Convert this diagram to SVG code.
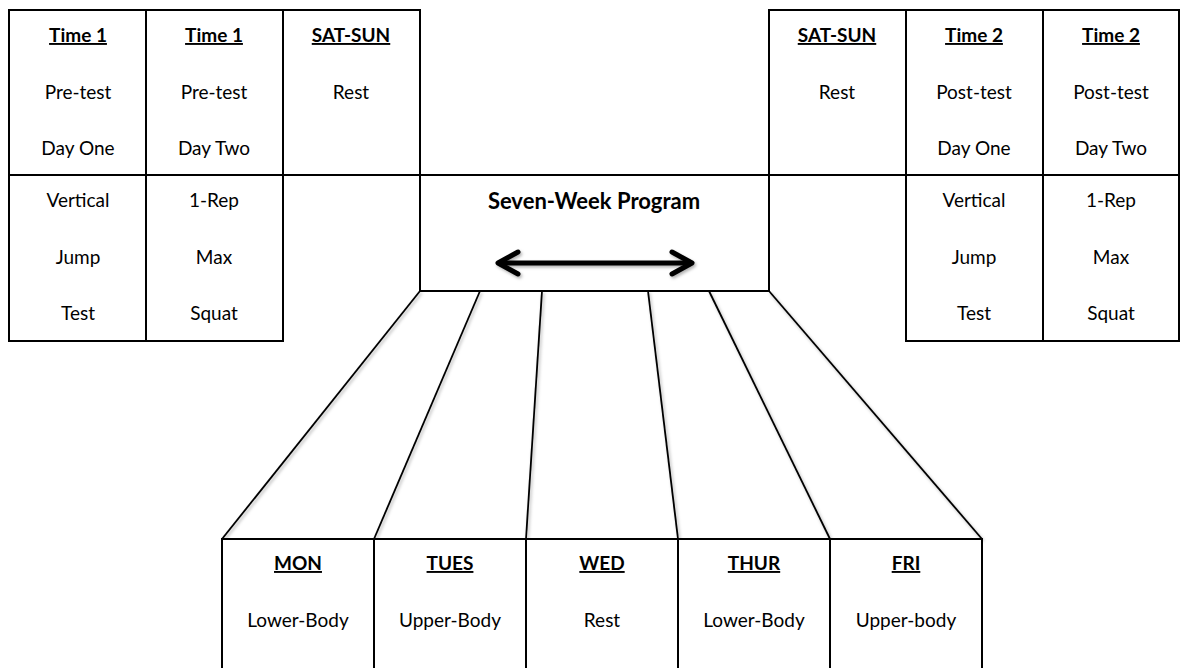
<svg xmlns="http://www.w3.org/2000/svg" width="1181" height="668" viewBox="0 0 1181 668">
<style>
  .cell{fill:#fff;stroke:#000;stroke-width:2}
  .t{font-family:Lato,"Open Sans","Liberation Sans",sans-serif;font-size:19px;fill:#000;text-anchor:middle}
  .h{font-weight:bold;text-decoration:underline}
  .b{font-weight:bold;font-size:22px}
  .fan{stroke:#000;stroke-width:1.8;fill:none}
</style>
<defs>
  <filter id="sh" x="-10%" y="-50%" width="120%" height="200%">
    <feDropShadow dx="1.5" dy="2" stdDeviation="1.5" flood-color="#000" flood-opacity="0.3"/>
  </filter>
</defs>
<rect width="1181" height="668" fill="#fff"/>

<g id="connectors">
  <g filter="url(#sh)">
    <line class="fan" x1="420" y1="291" x2="222" y2="539"/>
    <line class="fan" x1="480" y1="291" x2="374" y2="539"/>
    <line class="fan" x1="542" y1="291" x2="526" y2="539"/>
    <line class="fan" x1="648" y1="291" x2="678" y2="539"/>
    <line class="fan" x1="709" y1="291" x2="830" y2="539"/>
    <line class="fan" x1="769" y1="291" x2="982" y2="539"/>
  </g>
</g>

<g id="time1-day1-top"><rect class="cell" x="9" y="10" width="137" height="165"/>
  <text class="t h" x="78" y="42">Time 1</text>
  <text class="t" x="78" y="99">Pre-test</text>
  <text class="t" x="78" y="155">Day One</text></g>
<g id="time1-day1-bottom"><rect class="cell" x="9" y="175" width="137" height="166"/>
  <text class="t" x="78" y="207">Vertical</text>
  <text class="t" x="78" y="264">Jump</text>
  <text class="t" x="78" y="320">Test</text></g>
<g id="time1-day2-top"><rect class="cell" x="146" y="10" width="137" height="165"/>
  <text class="t h" x="214" y="42">Time 1</text>
  <text class="t" x="214" y="99">Pre-test</text>
  <text class="t" x="214" y="155">Day Two</text></g>
<g id="time1-day2-bottom"><rect class="cell" x="146" y="175" width="137" height="166"/>
  <text class="t" x="214" y="207">1-Rep</text>
  <text class="t" x="214" y="264">Max</text>
  <text class="t" x="214" y="320">Squat</text></g>
<g id="satsun-left"><rect class="cell" x="283" y="10" width="137" height="165"/>
  <text class="t h" x="351" y="42">SAT-SUN</text>
  <text class="t" x="351" y="99">Rest</text></g>

<g id="program"><rect class="cell" x="420" y="175" width="349" height="116"/>
  <text class="t b" x="594" y="209">Seven-Week Program</text>
  <g filter="url(#sh)" stroke="#000" stroke-width="5" stroke-linecap="round" stroke-linejoin="round" fill="none">
    <line x1="500" y1="263" x2="690" y2="263"/>
    <polyline points="518,252 498,263 518,274"/>
    <polyline points="672,252 692,263 672,274"/>
  </g></g>

<g id="satsun-right"><rect class="cell" x="769" y="10" width="137" height="165"/>
  <text class="t h" x="837" y="42">SAT-SUN</text>
  <text class="t" x="837" y="99">Rest</text></g>
<g id="time2-day1-top"><rect class="cell" x="906" y="10" width="137" height="165"/>
  <text class="t h" x="974" y="42">Time 2</text>
  <text class="t" x="974" y="99">Post-test</text>
  <text class="t" x="974" y="155">Day One</text></g>
<g id="time2-day1-bottom"><rect class="cell" x="906" y="175" width="137" height="166"/>
  <text class="t" x="974" y="207">Vertical</text>
  <text class="t" x="974" y="264">Jump</text>
  <text class="t" x="974" y="320">Test</text></g>
<g id="time2-day2-top"><rect class="cell" x="1043" y="10" width="136" height="165"/>
  <text class="t h" x="1111" y="42">Time 2</text>
  <text class="t" x="1111" y="99">Post-test</text>
  <text class="t" x="1111" y="155">Day Two</text></g>
<g id="time2-day2-bottom"><rect class="cell" x="1043" y="175" width="136" height="166"/>
  <text class="t" x="1111" y="207">1-Rep</text>
  <text class="t" x="1111" y="264">Max</text>
  <text class="t" x="1111" y="320">Squat</text></g>

<g id="mon"><rect class="cell" x="222" y="539" width="152" height="150"/>
  <text class="t h" x="298" y="570">MON</text>
  <text class="t" x="298" y="627">Lower-Body</text></g>
<g id="tues"><rect class="cell" x="374" y="539" width="152" height="150"/>
  <text class="t h" x="450" y="570">TUES</text>
  <text class="t" x="450" y="627">Upper-Body</text></g>
<g id="wed"><rect class="cell" x="526" y="539" width="152" height="150"/>
  <text class="t h" x="602" y="570">WED</text>
  <text class="t" x="602" y="627">Rest</text></g>
<g id="thur"><rect class="cell" x="678" y="539" width="152" height="150"/>
  <text class="t h" x="754" y="570">THUR</text>
  <text class="t" x="754" y="627">Lower-Body</text></g>
<g id="fri"><rect class="cell" x="830" y="539" width="152" height="150"/>
  <text class="t h" x="906" y="570">FRI</text>
  <text class="t" x="906" y="627">Upper-body</text></g>
</svg>
